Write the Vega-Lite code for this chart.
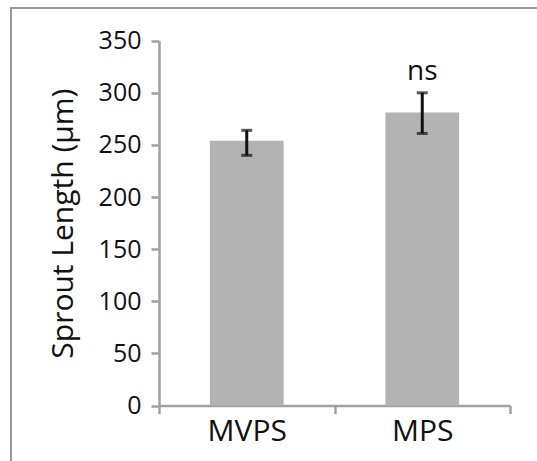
{
  "$schema": "https://vega.github.io/schema/vega-lite/v6.json",
  "width": 530,
  "height": 460,
  "padding": {"left": 11, "top": 8, "right": 0, "bottom": 0},
  "background": "white",
  "config": {
    "view": {"stroke": "#9a9a9a", "strokeWidth": 2},
    "font": "Open Sans"
  },
  "data": {
    "values": [
      {"group": "MVPS", "mean": 254, "low": 240, "high": 264, "label": ""},
      {"group": "MPS", "mean": 281, "low": 261, "high": 300, "label": "ns"}
    ]
  },
  "encoding": {
    "x": {
      "field": "group",
      "type": "nominal",
      "sort": ["MVPS", "MPS"],
      "scale": {"range": [148, 499], "paddingInner": 0, "paddingOuter": 0},
      "axis": {
        "title": null,
        "offset": -62.5,
        "domainColor": "#a0a0a0",
        "domainWidth": 2.5,
        "tickBand": "extent",
        "tickColor": "#a0a0a0",
        "tickWidth": 2.5,
        "tickSize": 8,
        "labelFont": "Open Sans",
        "labelFontSize": 30,
        "labelColor": "#111111",
        "labelPadding": 3,
        "labelAngle": 0
      }
    }
  },
  "layer": [
    {
      "mark": {"type": "bar", "color": "#b3b3b3", "width": {"band": 0.42}},
      "encoding": {
        "y": {
          "field": "mean",
          "type": "quantitative",
          "scale": {"domain": [0, 350], "nice": false, "range": [397.5, 32.7]},
          "axis": {
            "title": "Sprout Length (µm)",
            "offset": -148,
            "values": [0, 50, 100, 150, 200, 250, 300, 350],
            "grid": false,
            "domainColor": "#a0a0a0",
            "domainWidth": 2.5,
            "tickColor": "#a0a0a0",
            "tickWidth": 2.5,
            "tickSize": 8,
            "labelFont": "Open Sans",
            "labelFontSize": 25,
            "labelColor": "#111111",
            "labelPadding": 10,
            "titleFont": "Open Sans",
            "titleFontSize": 30,
            "titleFontWeight": "normal",
            "titleColor": "#111111",
            "titlePadding": 20
          }
        }
      }
    },
    {
      "mark": {
        "type": "errorbar",
        "ticks": {"size": 11, "thickness": 3, "color": "#111111"},
        "rule": {"strokeWidth": 3, "color": "#111111"}
      },
      "encoding": {
        "y": {"field": "low", "type": "quantitative", "title": "Sprout Length (µm)"},
        "y2": {"field": "high"}
      }
    },
    {
      "mark": {"type": "text", "font": "Open Sans", "fontSize": 28, "color": "#111111", "baseline": "alphabetic", "dy": -13},
      "encoding": {
        "y": {"field": "high", "type": "quantitative", "title": "Sprout Length (µm)"},
        "text": {"field": "label"}
      }
    }
  ]
}
